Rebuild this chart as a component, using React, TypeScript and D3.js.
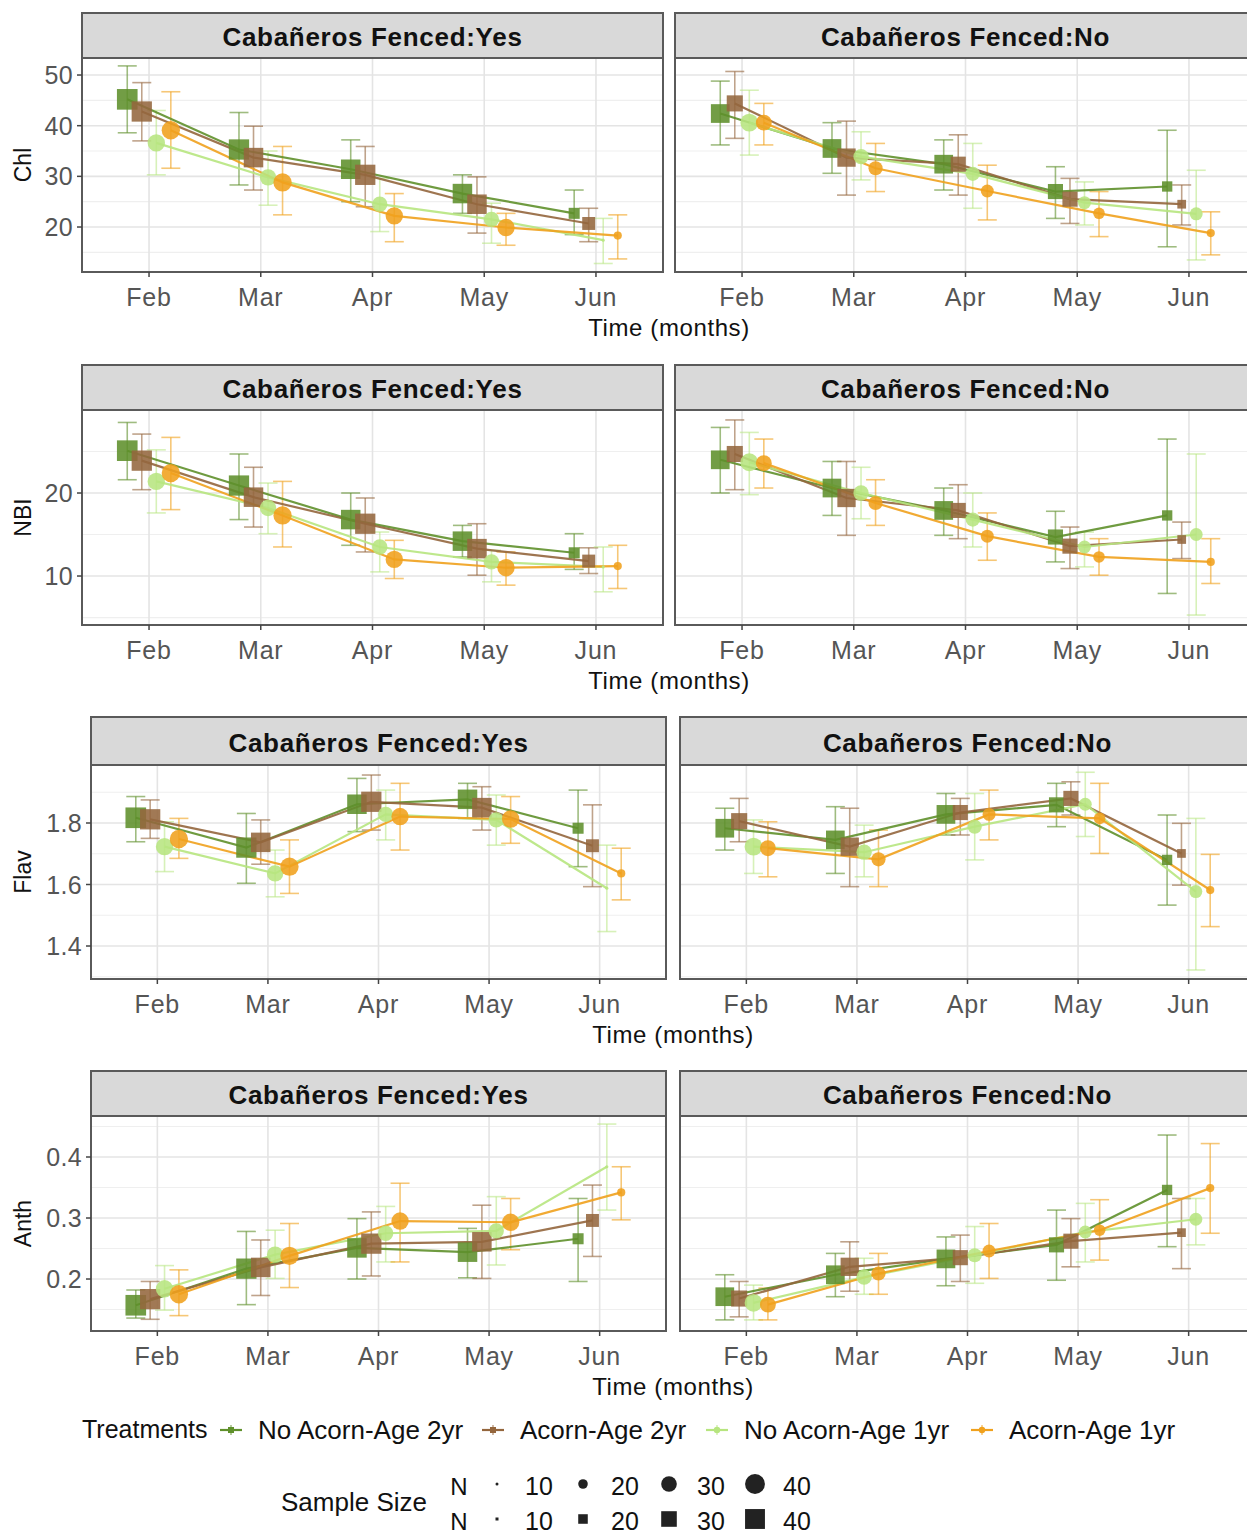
import React from 'react';
import * as d3 from 'd3';

const months = ['Feb', 'Mar', 'Apr', 'May', 'Jun'];
const treatments = ['No Acorn-Age 2yr', 'Acorn-Age 2yr', 'No Acorn-Age 1yr', 'Acorn-Age 1yr'];
const treatmentColors = ['#5f902b', '#94663d', '#b7e57f', '#f0a11d'];
const treatmentShapes = ['square', 'square', 'circle', 'circle'];
const siteTitles = ['Cabañeros Fenced:Yes', 'Cabañeros Fenced:No'];
const sizeLegendValues = [10, 20, 30, 40];
const variableNames = ['Chl', 'NBI', 'Flav', 'Anth'];

// sample size N [treatment][month]
const nYes = [[42, 41, 39, 39, 22], [41, 39, 41, 39, 25], [32, 30, 28, 28, 12], [34, 34, 32, 32, 18]];
const nNo = [[37, 37, 37, 29, 21], [31, 36, 29, 29, 19], [33, 28, 26, 24, 24], [29, 26, 24, 22, 18]];

// Chl
const chlYesMean = [[45.2, 35.3, 31.4, 26.6, 22.7], [42.8, 33.7, 30.3, 24.5, 20.7], [36.6, 29.8, 24.5, 21.5, 17.4], [39.1, 28.8, 22.2, 19.9, 18.3]];
const chlYesLo = [[38.6, 28.3, 25.0, 22.7, 18.5], [37.0, 27.3, 24.0, 18.8, 17.1], [30.3, 24.3, 19.1, 16.8, 12.8], [31.6, 22.4, 17.1, 16.4, 13.7]];
const chlYesHi = [[51.8, 42.6, 37.2, 30.3, 27.3], [48.5, 39.9, 35.9, 29.9, 23.7], [43.0, 35.0, 29.6, 24.7, 21.7], [46.7, 35.9, 26.6, 22.7, 22.4]];
const chlNoMean = [[42.4, 35.5, 32.4, 27.0, 28.0], [44.4, 33.7, 32.4, 25.5, 24.5], [40.6, 33.9, 30.5, 24.8, 22.6], [40.6, 31.6, 27.1, 22.7, 18.8]];
const chlNoLo = [[36.2, 30.6, 27.3, 21.7, 16.1], [37.5, 26.3, 26.3, 20.7, 20.4], [34.2, 29.3, 23.7, 20.4, 13.5], [36.2, 27.0, 21.4, 18.1, 14.5]];
const chlNoHi = [[48.8, 40.6, 37.2, 31.9, 39.1], [50.7, 40.9, 38.2, 29.6, 28.3], [47.0, 38.8, 36.5, 28.9, 31.2], [44.4, 36.5, 32.2, 27.0, 23.0]];

// NBI
const nbiYesMean = [[25.1, 20.9, 16.8, 14.2, 12.8], [23.9, 19.5, 16.3, 13.3, 11.8], [21.4, 18.2, 13.5, 11.7, 11.1], [22.4, 17.3, 12.0, 11.0, 11.2]];
const nbiYesLo = [[21.6, 16.8, 13.7, 12.3, 10.8], [20.4, 15.9, 12.9, 10.1, 10.3], [17.6, 15.1, 10.5, 9.3, 8.1], [18.0, 13.5, 9.7, 8.9, 8.5]];
const nbiYesHi = [[28.5, 24.7, 20.0, 16.1, 15.1], [27.1, 23.1, 19.4, 16.3, 13.4], [25.2, 21.2, 15.3, 13.1, 13.5], [26.7, 21.4, 14.3, 12.9, 13.7]];
const nbiNoMean = [[24.0, 20.6, 17.9, 14.7, 17.3], [24.7, 19.4, 17.9, 13.6, 14.4], [23.7, 20.0, 16.8, 13.5, 15.0], [23.6, 18.8, 14.8, 12.3, 11.7]];
const nbiNoLo = [[20.0, 17.3, 14.9, 11.7, 7.9], [20.4, 14.9, 14.5, 10.9, 12.1], [19.8, 16.9, 13.5, 11.1, 5.3], [20.6, 16.1, 11.9, 10.1, 9.1]];
const nbiNoHi = [[27.9, 23.8, 20.6, 17.8, 26.5], [28.8, 23.8, 21.0, 15.9, 16.5], [27.3, 23.1, 20.0, 15.3, 24.7], [26.5, 21.6, 17.6, 14.5, 14.5]];

// Flav
const flavYesMean = [[1.817, 1.720, 1.861, 1.877, 1.783], [1.812, 1.737, 1.869, 1.850, 1.726], [1.723, 1.636, 1.828, 1.810, 1.588], [1.748, 1.658, 1.821, 1.813, 1.636]];
const flavYesLo = [[1.739, 1.604, 1.772, 1.815, 1.658], [1.750, 1.666, 1.777, 1.777, 1.593], [1.642, 1.560, 1.745, 1.728, 1.447], [1.685, 1.571, 1.712, 1.734, 1.550]];
const flavYesHi = [[1.886, 1.831, 1.945, 1.929, 1.907], [1.875, 1.810, 1.956, 1.918, 1.859], [1.804, 1.712, 1.907, 1.891, 1.728], [1.815, 1.745, 1.929, 1.886, 1.718]];
const flavNoMean = [[1.783, 1.745, 1.828, 1.859, 1.680], [1.806, 1.723, 1.834, 1.880, 1.701], [1.723, 1.705, 1.788, 1.861, 1.577], [1.718, 1.682, 1.828, 1.815, 1.582]];
const flavNoLo = [[1.712, 1.636, 1.761, 1.788, 1.533], [1.739, 1.593, 1.761, 1.826, 1.598], [1.636, 1.625, 1.680, 1.756, 1.322], [1.625, 1.593, 1.745, 1.701, 1.463]];
const flavNoHi = [[1.848, 1.853, 1.896, 1.929, 1.826], [1.880, 1.848, 1.880, 1.934, 1.799], [1.810, 1.793, 1.896, 1.965, 1.815], [1.804, 1.777, 1.907, 1.929, 1.698]];

// Anth
const anthYesMean = [[0.157, 0.217, 0.251, 0.244, 0.266], [0.167, 0.219, 0.258, 0.261, 0.296], [0.184, 0.240, 0.275, 0.279, 0.384], [0.175, 0.238, 0.295, 0.293, 0.342]];
const anthYesLo = [[0.136, 0.158, 0.200, 0.202, 0.196], [0.134, 0.173, 0.205, 0.201, 0.237], [0.149, 0.201, 0.228, 0.223, 0.313], [0.140, 0.186, 0.228, 0.248, 0.297]];
const anthYesHi = [[0.182, 0.278, 0.299, 0.283, 0.332], [0.196, 0.264, 0.310, 0.321, 0.354], [0.222, 0.280, 0.319, 0.335, 0.454], [0.215, 0.291, 0.357, 0.332, 0.384]];
const anthNoMean = [[0.171, 0.207, 0.233, 0.256, 0.346], [0.168, 0.220, 0.235, 0.262, 0.276], [0.161, 0.203, 0.239, 0.277, 0.298], [0.158, 0.209, 0.246, 0.280, 0.349]];
const anthNoLo = [[0.133, 0.171, 0.189, 0.198, 0.253], [0.138, 0.180, 0.196, 0.220, 0.217], [0.133, 0.175, 0.193, 0.228, 0.256], [0.133, 0.175, 0.201, 0.231, 0.275]];
const anthNoHi = [[0.207, 0.242, 0.269, 0.313, 0.436], [0.196, 0.261, 0.272, 0.299, 0.332], [0.190, 0.234, 0.286, 0.324, 0.332], [0.185, 0.242, 0.291, 0.330, 0.422]];

// y ticks per variable
const chlMajor = [20, 30, 40, 50];
const chlMinor = [15, 25, 35, 45];
const nbiMajor = [10, 20];
const nbiMinor = [5, 15, 25];
const flavMajor = [1.4, 1.6, 1.8];
const flavMinor = [1.3, 1.5, 1.7, 1.9];
const anthMajor = [0.2, 0.3, 0.4];
const anthMinor = [0.15, 0.25, 0.35, 0.45];

const FONT = "'Liberation Sans', Arial, Helvetica, sans-serif";

const pointSize = (N: number) => Math.max(3, 3.9 * Math.sqrt(Math.max(0, N - 14)));

type PanelProps = {
  id: string;
  x0: number; x1: number;
  stripTop: number; plotTop: number; plotBottom: number;
  yDomain: [number, number];
  major: number[]; minor: number[];
  fmt: (v: number) => string;
  title: string;
  mean: number[][]; lo: number[][]; hi: number[][]; n: number[][];
  showY: boolean;
};

function Panel(p: PanelProps) {
  const x = d3.scaleLinear().domain([-0.6, 4.6]).range([p.x0, p.x1]);
  const y = d3.scaleLinear().domain(p.yDomain).range([p.plotBottom, p.plotTop]);
  const dodge = [-0.195, -0.065, 0.065, 0.195];
  const line = d3.line<[number, number]>().x(d => d[0]).y(d => d[1]);
  const cap = 9.5;
  return (
    <g>
      <defs>
        <clipPath id={p.id}>
          <rect x={p.x0} y={p.plotTop} width={p.x1 - p.x0} height={p.plotBottom - p.plotTop} />
        </clipPath>
      </defs>
      <rect x={p.x0} y={p.plotTop} width={p.x1 - p.x0} height={p.plotBottom - p.plotTop} fill="#fff" />
      <g clipPath={`url(#${p.id})`}>
        {p.minor.map(v => (
          <line key={'mn' + v} x1={p.x0} x2={p.x1} y1={y(v)} y2={y(v)} stroke="#efefef" strokeWidth={1.2} />
        ))}
        {p.major.map(v => (
          <line key={'mj' + v} x1={p.x0} x2={p.x1} y1={y(v)} y2={y(v)} stroke="#e4e4e4" strokeWidth={1.6} />
        ))}
        {months.map((m, i) => (
          <line key={'vx' + m} x1={x(i)} x2={x(i)} y1={p.plotTop} y2={p.plotBottom} stroke="#e4e4e4" strokeWidth={1.6} />
        ))}
        {treatments.map((t, ti) => (
          <g key={'eb' + t} stroke={treatmentColors[ti]} strokeOpacity={ti === 2 ? 0.55 : 0.6} strokeWidth={1.6} fill="none">
            {months.map((m, mi) => {
              const cx = x(mi + dodge[ti]);
              const yl = y(p.lo[ti][mi]);
              const yh = y(p.hi[ti][mi]);
              return (
                <g key={m}>
                  <line x1={cx} x2={cx} y1={yl} y2={yh} />
                  <line x1={cx - cap} x2={cx + cap} y1={yl} y2={yl} />
                  <line x1={cx - cap} x2={cx + cap} y1={yh} y2={yh} />
                </g>
              );
            })}
          </g>
        ))}
        {treatments.map((t, ti) => {
          const pts: [number, number][] = months.map((m, mi) => [x(mi + dodge[ti]), y(p.mean[ti][mi])]);
          return (
            <path key={'ln' + t} d={line(pts) || ''} fill="none" stroke={treatmentColors[ti]} strokeWidth={2.2} strokeOpacity={0.9} />
          );
        })}
        {treatments.map((t, ti) => (
          <g key={'pt' + t} fill={treatmentColors[ti]} fillOpacity={0.88}>
            {months.map((m, mi) => {
              const cx = x(mi + dodge[ti]);
              const cy = y(p.mean[ti][mi]);
              const s = pointSize(p.n[ti][mi]);
              return treatmentShapes[ti] === 'square'
                ? <rect key={m} x={cx - s / 2} y={cy - s / 2} width={s} height={s} />
                : <circle key={m} cx={cx} cy={cy} r={s / 2 * 1.05} />;
            })}
          </g>
        ))}
      </g>
      <rect x={p.x0} y={p.plotTop} width={p.x1 - p.x0} height={p.plotBottom - p.plotTop} fill="none" stroke="#5a5a5a" strokeWidth={2} />
      <rect x={p.x0} y={p.stripTop} width={p.x1 - p.x0} height={p.plotTop - p.stripTop} fill="#d9d9d9" stroke="#5a5a5a" strokeWidth={2} />
      <text x={(p.x0 + p.x1) / 2} y={(p.stripTop + p.plotTop) / 2 + 10.5} textAnchor="middle" fontFamily={FONT} fontWeight="bold" fontSize={26} letterSpacing={0.7} fill="#111">{p.title}</text>
      {months.map((m, i) => (
        <g key={'xt' + m}>
          <line x1={x(i)} x2={x(i)} y1={p.plotBottom} y2={p.plotBottom + 5} stroke="#444" strokeWidth={1.5} />
          <text x={x(i)} y={p.plotBottom + 34} textAnchor="middle" fontFamily={FONT} fontSize={25} letterSpacing={0.8} fill="#555">{m}</text>
        </g>
      ))}
      {p.showY && p.major.map(v => (
        <g key={'yt' + v}>
          <line x1={p.x0 - 5} x2={p.x0} y1={y(v)} y2={y(v)} stroke="#444" strokeWidth={1.5} />
          <text x={p.x0 - 9} y={y(v) + 9} textAnchor="end" fontFamily={FONT} fontSize={25} letterSpacing={0.3} fill="#555">{p.fmt(v)}</text>
        </g>
      ))}
    </g>
  );
}

const fmtInt = (v: number) => d3.format('d')(v);
const fmt1 = (v: number) => d3.format('.1f')(v);

export default function App() {
  const rows = [
    { name: variableNames[0], stripTop: 13, plotTop: 58, plotBottom: 272, xl: [82, 663], xr: [675, 1256], yDomain: [11.12, 53.36] as [number, number], major: chlMajor, minor: chlMinor, fmt: fmtInt,
      yes: [chlYesMean, chlYesLo, chlYesHi], no: [chlNoMean, chlNoLo, chlNoHi] },
    { name: variableNames[1], stripTop: 365, plotTop: 410, plotBottom: 625, xl: [82, 663], xr: [675, 1256], yDomain: [4.1, 30.0] as [number, number], major: nbiMajor, minor: nbiMinor, fmt: fmtInt,
      yes: [nbiYesMean, nbiYesLo, nbiYesHi], no: [nbiNoMean, nbiNoLo, nbiNoHi] },
    { name: variableNames[2], stripTop: 717, plotTop: 765, plotBottom: 979, xl: [91, 666], xr: [680, 1255], yDomain: [1.2927, 1.9886] as [number, number], major: flavMajor, minor: flavMinor, fmt: fmt1,
      yes: [flavYesMean, flavYesLo, flavYesHi], no: [flavNoMean, flavNoLo, flavNoHi] },
    { name: variableNames[3], stripTop: 1071, plotTop: 1116, plotBottom: 1331, xl: [91, 666], xr: [680, 1255], yDomain: [0.1148, 0.4672] as [number, number], major: anthMajor, minor: anthMinor, fmt: fmt1,
      yes: [anthYesMean, anthYesLo, anthYesHi], no: [anthNoMean, anthNoLo, anthNoHi] },
  ];

  const legendKeyX = [231, 493, 717, 982];
  const sizeKeyX = [497, 583, 669, 755];

  return (
    <div style={{ position: 'absolute', left: 0, top: 0, width: 1247, height: 1535, overflow: 'hidden' }}>
      <svg width={1247} height={1535} style={{ display: 'block', background: '#fff' }}>
        {rows.map((r, ri) => (
          <g key={r.name}>
            <Panel id={`clip-${ri}-0`} x0={r.xl[0]} x1={r.xl[1]} stripTop={r.stripTop} plotTop={r.plotTop} plotBottom={r.plotBottom}
              yDomain={r.yDomain} major={r.major} minor={r.minor} fmt={r.fmt} title={siteTitles[0]}
              mean={r.yes[0]} lo={r.yes[1]} hi={r.yes[2]} n={nYes} showY={true} />
            <Panel id={`clip-${ri}-1`} x0={r.xr[0]} x1={r.xr[1]} stripTop={r.stripTop} plotTop={r.plotTop} plotBottom={r.plotBottom}
              yDomain={r.yDomain} major={r.major} minor={r.minor} fmt={r.fmt} title={siteTitles[1]}
              mean={r.no[0]} lo={r.no[1]} hi={r.no[2]} n={nNo} showY={false} />
            <text transform={`translate(31, ${(r.plotTop + r.plotBottom) / 2}) rotate(-90)`} textAnchor="middle" fontFamily={FONT} fontSize={23} fill="#111">{r.name}</text>
            <text x={(r.xl[0] + r.xr[1]) / 2} y={r.plotBottom + 64} textAnchor="middle" fontFamily={FONT} fontSize={24} letterSpacing={0.6} fill="#111">Time (months)</text>
          </g>
        ))}

        {/* Treatments legend */}
        <text x={82} y={1438} fontFamily={FONT} fontSize={25} fill="#111">Treatments</text>
        {treatments.map((t, ti) => {
          const kx = legendKeyX[ti];
          const ky = 1430;
          return (
            <g key={'lg' + t}>
              <line x1={kx} x2={kx} y1={ky - 5} y2={ky + 5} stroke={treatmentColors[ti]} strokeOpacity={0.6} strokeWidth={1.5} />
              <line x1={kx - 11} x2={kx + 11} y1={ky} y2={ky} stroke={treatmentColors[ti]} strokeWidth={2.2} />
              {treatmentShapes[ti] === 'square'
                ? <rect x={kx - 3} y={ky - 3} width={6} height={6} fill={treatmentColors[ti]} />
                : <circle cx={kx} cy={ky} r={3.2} fill={treatmentColors[ti]} />}
              <text x={kx + 27} y={ky + 9} fontFamily={FONT} fontSize={26} fill="#111">{t}</text>
            </g>
          );
        })}

        {/* Sample size legend */}
        <text x={281} y={1511} fontFamily={FONT} fontSize={26} fill="#111">Sample Size</text>
        {['circle', 'square'].map((shape, si) => {
          const ky = si === 0 ? 1486 : 1521;
          return (
            <g key={shape}>
              <text x={459} y={ky + 9} textAnchor="middle" fontFamily={FONT} fontSize={24} fill="#111">N</text>
              {sizeLegendValues.map((v, vi) => {
                const s = pointSize(v);
                const kx = sizeKeyX[vi];
                return (
                  <g key={v}>
                    {shape === 'circle'
                      ? <circle cx={kx} cy={ky - 2} r={s / 2} fill="#222" />
                      : <rect x={kx - s / 2} y={ky - 2 - s / 2} width={s} height={s} fill="#222" />}
                    <text x={kx + 42} y={ky + 9} textAnchor="middle" fontFamily={FONT} fontSize={25} fill="#111">{v}</text>
                  </g>
                );
              })}
            </g>
          );
        })}
      </svg>
    </div>
  );
}
